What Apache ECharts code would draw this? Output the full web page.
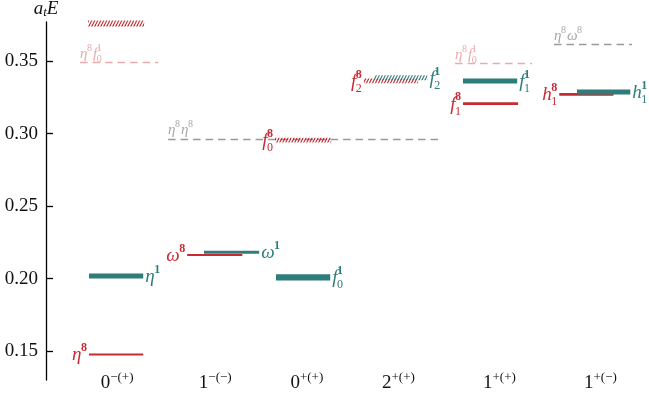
<!DOCTYPE html>
<html>
<head>
<meta charset="utf-8">
<script src="https://cdn.jsdelivr.net/npm/echarts@6/dist/echarts.min.js"></script>
<style>
  html, body { margin: 0; padding: 0; background: #fff; }
  #chart { width: 649px; height: 397px; }
</style>
</head>
<body>
<div id="chart"></div>
<script>
// channels (x positions in units of channel index)
const channelLabels = ['0^{−(+)}', '1^{−(−)}', '0^{+(+)}', '2^{+(+)}', '1^{+(+)}', '1^{+(−)}']
const channelTicks = [0.01, 1.06, 2.04, 3.02, 4.10, 5.18]
const energyTicks = [0.15, 0.20, 0.25, 0.30, 0.35]

// levels
const levelLabel = ['', 'η^8f_0^1', 'η^1', 'η^8', 'η^8η^8', 'ω^8', 'ω^1', 'f_0^8', 'f_0^1',
  'f_2^8', 'f_2^1', 'η^8f_0^1', 'f_1^1', 'f_1^8', 'η^8ω^8', 'h_1^8', 'h_1^1']
const levelFrom = [-0.30, -0.385, -0.29, -0.29, 0.556, 0.76, 0.94, 1.70, 1.71,
  2.65, 2.76, 3.626, 3.71, 3.71, 4.684, 4.74, 4.93]
const levelTo = [0.30, 0.449, 0.29, 0.29, 3.444, 1.35, 1.53, 2.30, 2.29,
  3.23, 3.33, 4.449, 4.29, 4.30, 5.519, 5.32, 5.50]
const levelEnergy = [0.3760, 0.3490, 0.2018, 0.1476, 0.2960, 0.2162, 0.2181, 0.2955, 0.2008,
  0.3364, 0.3385, 0.3483, 0.3363, 0.3207, 0.3614, 0.3271, 0.3287]
const levelError = [0.0021, 0, 0.0017, 0.0007, 0, 0.0007, 0.0010, 0.0017, 0.0021,
  0.0017, 0.0017, 0, 0.0017, 0.0010, 0, 0.0010, 0.0017]
const levelKind = ['hatch8', 'pair', 'one', 'eight', 'pairGrey', 'eight', 'one', 'hatch8', 'one',
  'hatch8', 'hatch1', 'pair', 'one', 'eight', 'pairGrey', 'eight', 'one']

const RED = '#C62A33'
const TEAL = '#2E7D7A'
const PINK = '#E9AAAA'
const GREY = '#9A9A9A'
const FONT = '"Liberation Serif", "DejaVu Serif", serif'

const measureCtx = document.createElement('canvas').getContext('2d')
function textW(t, font) {
  measureCtx.font = font
  return measureCtx.measureText(t).width
}

function makeHatch(color) {
  const c = document.createElement('canvas')
  c.width = 3
  c.height = 6
  const g = c.getContext('2d')
  g.strokeStyle = color
  g.lineWidth = 1.2
  for (const dx of [-3, 0, 3]) {
    g.beginPath()
    g.moveTo(dx, 6)
    g.lineTo(dx + 3, 0)
    g.stroke()
  }
  return c
}
const hatchRed = makeHatch(RED)
const hatchTeal = makeHatch(TEAL)

// 'f_0^8' -> [{base:'f', sub:'0', sup:'8'}]
function parseLabel(s) {
  const toks = []
  for (let i = 0; i < s.length; i++) {
    const ch = s[i]
    if ((ch === '_' || ch === '^') && toks.length) {
      toks[toks.length - 1][ch === '_' ? 'sub' : 'sup'] = s[++i]
    } else {
      toks.push({base: ch, sub: '', sup: ''})
    }
  }
  return toks
}

// lays out tokens; x is left or right edge, y is base text centre
function labelTexts(str, x, y, align, color, size, boldSup) {
  const toks = parseLabel(str)
  const baseFont = 'italic ' + size + 'px ' + FONT
  const ss = Math.round(size * 0.64)
  const supFont = (boldSup ? 'bold ' : '') + ss + 'px ' + FONT
  const subFont = ss + 'px ' + FONT
  const widths = toks.map(t => {
    const bw = textW(t.base, baseFont) - 0.5
    const sw = Math.max(t.sup ? textW(t.sup, supFont) : 0, t.sub ? textW(t.sub, subFont) : 0)
    return {bw, sw}
  })
  const total = widths.reduce((a, w) => a + w.bw + w.sw + 1, 0)
  let cx = align === 'left' ? x : x - total
  const out = []
  toks.forEach((t, i) => {
    out.push({type: 'text', style: {text: t.base, x: cx, y: y, font: baseFont, fill: color,
      verticalAlign: 'middle', align: 'left'}})
    const sx = cx + widths[i].bw
    if (t.sup) out.push({type: 'text', style: {text: t.sup, x: sx, y: y - size * 0.38, font: supFont,
      fill: color, verticalAlign: 'middle', align: 'left'}})
    if (t.sub) out.push({type: 'text', style: {text: t.sub, x: sx, y: y + size * 0.36, font: subFont,
      fill: color, verticalAlign: 'middle', align: 'left'}})
    cx += widths[i].bw + widths[i].sw + 1
  })
  return out
}

function renderLevel(params, api) {
  const i = api.value(4)
  const kind = levelKind[i]
  const a = api.coord([api.value(0), api.value(2) + api.value(3)])
  const b = api.coord([api.value(1), api.value(2) - api.value(3)])
  const yMid = api.coord([0, api.value(2)])[1]
  const children = []
  const label = levelLabel[i]
  if (kind === 'pair' || kind === 'pairGrey') {
    const col = kind === 'pair' ? PINK : GREY
    children.push({type: 'line', shape: {x1: a[0], y1: yMid, x2: b[0], y2: yMid},
      style: {stroke: col, lineWidth: 1.5, lineDash: [7.5, 5]}})
    if (label) children.push(...labelTexts(label, a[0], yMid - 9, 'left',
      kind === 'pair' ? PINK : '#A8A8A8', 15, false))
  } else {
    let h = Math.max(b[1] - a[1], 2)
    let fill = kind === 'one' ? TEAL : RED
    if (kind === 'hatch8') fill = {image: hatchRed, repeat: 'repeat'}
    if (kind === 'hatch1') fill = {image: hatchTeal, repeat: 'repeat'}
    children.push({type: 'rect', shape: {x: a[0], y: yMid - h / 2, width: b[0] - a[0], height: h},
      style: {fill: fill}})
    const col = (kind === 'one' || kind === 'hatch1') ? TEAL : RED
    const right = (kind === 'one' || kind === 'hatch1')
    if (label) children.push(...labelTexts(label, right ? b[0] + 2 : a[0] - 1, yMid + 1,
      right ? 'left' : 'right', col, 19, true))
  }
  return {type: 'group', children}
}

const levelData = levelLabel.map((_, i) => [levelFrom[i], levelTo[i], levelEnergy[i], levelError[i], i])

const chart = echarts.init(document.getElementById('chart'), null, {renderer: 'canvas'})
chart.setOption({
  animation: false,
  grid: {left: 46, right: 0, top: 22, bottom: 17, outerBoundsMode: 'none'},
  xAxis: {
    type: 'value',
    min: -0.75,
    max: 5.70,
    axisLine: {show: false, onZero: false},
    axisTick: {show: false},
    splitLine: {show: false},
    axisLabel: {
      customValues: channelTicks,
      margin: -9,
      formatter: v => {
        const k = channelTicks.findIndex(t => Math.abs(t - v) < 1e-6)
        if (k < 0) return ''
        const m = channelLabels[k].match(/^(.)\^\{(.*)\}$/)
        return '{b|' + m[1] + '}{s|' + m[2] + '}'
      },
      rich: {
        b: {fontFamily: FONT, fontSize: 19, color: '#111', lineHeight: 24},
        s: {fontFamily: FONT, fontSize: 13, color: '#111', verticalAlign: 'top', lineHeight: 4}
      }
    }
  },
  yAxis: {
    type: 'value',
    min: 0.13,
    max: 0.377,
    name: '{v|a}{t|t}{v|E}',
    nameLocation: 'end',
    nameGap: 3,
    nameTextStyle: {
      rich: {
        v: {fontFamily: FONT, fontStyle: 'italic', fontSize: 19, color: '#111', lineHeight: 20},
        t: {fontFamily: FONT, fontStyle: 'italic', fontSize: 13, color: '#111', verticalAlign: 'bottom', lineHeight: 12}
      }
    },
    axisLine: {show: true, onZero: false, lineStyle: {color: '#000', width: 1.3}},
    axisTick: {show: true, inside: true, length: 7, customValues: energyTicks, lineStyle: {color: '#000', width: 1.3}},
    splitLine: {show: false},
    axisLabel: {
      customValues: energyTicks,
      margin: 8,
      formatter: v => v.toFixed(2),
      fontFamily: FONT,
      fontSize: 19,
      color: '#111'
    }
  },
  series: [{
    type: 'custom',
    renderItem: renderLevel,
    encode: {x: [0, 1], y: 2},
    data: levelData,
    clip: false
  }]
})
</script>
</body>
</html>
